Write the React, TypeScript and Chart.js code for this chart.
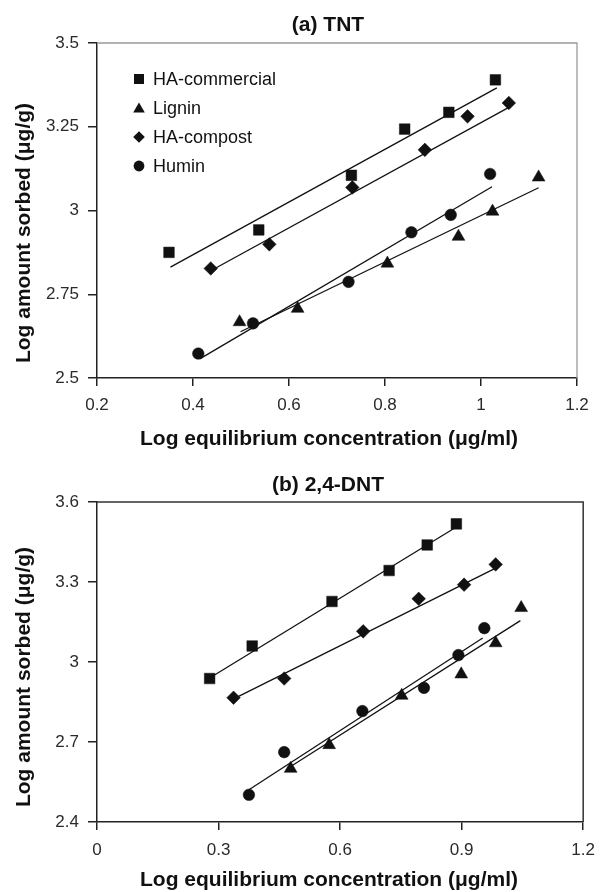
import React, { useEffect, useRef } from 'react';
import { Chart, registerables } from 'chart.js';

Chart.register(...registerables);

// ---------- shared ----------
const seriesNames = ['HA-commercial', 'Lignin', 'HA-compost', 'Humin'];
const seriesStyles = ['rect', 'triangle', 'rectRot', 'circle'];
const seriesRadii = [7.5, 7.4, 6.8, 5.8];

// ---------- (a) TNT ----------
const aTitle = '(a) TNT';
const aXTicks = [0.2, 0.4, 0.6, 0.8, 1, 1.2];
const aYTicks = [2.5, 2.75, 3, 3.25, 3.5];

const aHACommercialX = [0.35, 0.537, 0.73, 0.841, 0.933, 1.03];
const aHACommercialY = [2.875, 2.942, 3.105, 3.243, 3.293, 3.39];
const aLigninX = [0.497, 0.618, 0.805, 0.953, 1.024, 1.12];
const aLigninY = [2.667, 2.707, 2.842, 2.922, 2.997, 3.099];
const aHACompostX = [0.437, 0.559, 0.732, 0.883, 0.972, 1.058];
const aHACompostY = [2.827, 2.899, 3.069, 3.181, 3.281, 3.321];
const aHuminX = [0.411, 0.525, 0.724, 0.855, 0.937, 1.019];
const aHuminY = [2.573, 2.663, 2.787, 2.935, 2.987, 3.109];

const aFitHACommercialX = [0.353, 1.033];
const aFitHACommercialY = [2.831, 3.366];
const aFitLigninX = [0.499, 1.12];
const aFitLigninY = [2.638, 3.068];
const aFitHACompostX = [0.437, 1.058];
const aFitHACompostY = [2.82, 3.308];
const aFitHuminX = [0.415, 1.023];
const aFitHuminY = [2.558, 3.071];

// ---------- (b) 2,4-DNT ----------
const bTitle = '(b) 2,4-DNT';
const bXTicks = [0, 0.3, 0.6, 0.9, 1.2];
const bYTicks = [2.4, 2.7, 3, 3.3, 3.6];

const bHACommercialX = [0.278, 0.383, 0.58, 0.721, 0.815, 0.887];
const bHACommercialY = [2.938, 3.06, 3.227, 3.343, 3.439, 3.518];
const bLigninX = [0.478, 0.573, 0.752, 0.899, 0.984, 1.047];
const bLigninY = [2.6, 2.689, 2.874, 2.954, 3.071, 3.203];
const bHACompostX = [0.337, 0.462, 0.657, 0.794, 0.906, 0.984];
const bHACompostY = [2.866, 2.938, 3.115, 3.237, 3.29, 3.366];
const bHuminX = [0.375, 0.462, 0.655, 0.807, 0.892, 0.956];
const bHuminY = [2.502, 2.662, 2.816, 2.903, 3.026, 3.127];

const bFitHACommercialX = [0.278, 0.887];
const bFitHACommercialY = [2.94, 3.506];
const bFitLigninX = [0.478, 1.045];
const bFitLigninY = [2.608, 3.155];
const bFitHACompostX = [0.331, 0.984];
const bFitHACompostY = [2.857, 3.352];
const bFitHuminX = [0.375, 0.952];
const bFitHuminY = [2.521, 3.09];

const xAxisTitle = 'Log equilibrium concentration (\u03bcg/ml)';
const yAxisTitle = 'Log amount sorbed (\u03bcg/g)';

const FONT = '"Liberation Sans", Arial, Helvetica, sans-serif';
const INK = '#111';

const zip = (xs: number[], ys: number[]) => xs.map((x, i) => ({ x, y: ys[i] }));

function drawMarker(ctx: CanvasRenderingContext2D, style: string, x: number, y: number, s: number) {
  ctx.beginPath();
  if (style === 'rect') {
    ctx.rect(x - s / 2, y - s / 2, s, s);
  } else if (style === 'triangle') {
    const h = s * 0.9;
    ctx.moveTo(x, y - h / 2 - 1);
    ctx.lineTo(x + s / 2 + 0.8, y + h / 2);
    ctx.lineTo(x - s / 2 - 0.8, y + h / 2);
    ctx.closePath();
  } else if (style === 'rectRot') {
    const r = s / 2 + 0.8;
    ctx.moveTo(x, y - r);
    ctx.lineTo(x + r, y);
    ctx.lineTo(x, y + r);
    ctx.lineTo(x - r, y);
    ctx.closePath();
  } else {
    ctx.arc(x, y, s / 2 + 0.4, 0, Math.PI * 2);
  }
  ctx.fill();
}

const figPlugin = {
  id: 'figText',
  afterDraw(chart: any, _args: any, opts: any) {
    const ctx: CanvasRenderingContext2D = chart.ctx;
    const a = chart.chartArea;
    ctx.save();
    // frame (top + right)
    ctx.strokeStyle = opts.frameColor;
    ctx.lineWidth = opts.frameWidth;
    ctx.beginPath();
    ctx.moveTo(a.left, a.top);
    ctx.lineTo(a.right, a.top);
    ctx.lineTo(a.right, a.bottom);
    ctx.stroke();

    ctx.fillStyle = INK;
    ctx.font = `bold 21px ${FONT}`;
    ctx.textAlign = 'center';
    ctx.textBaseline = 'middle';
    ctx.fillText(opts.title, opts.titleX, opts.titleY);
    ctx.fillText(opts.xTitle, opts.xTitleX, opts.xTitleY);
    ctx.save();
    ctx.translate(opts.yTitleX, opts.yTitleY);
    ctx.rotate(-Math.PI / 2);
    ctx.textBaseline = 'alphabetic';
    ctx.fillText(opts.yTitle, 0, 0);
    ctx.restore();

    if (opts.legend) {
      const lg = opts.legend;
      ctx.font = `18px ${FONT}`;
      ctx.textAlign = 'left';
      ctx.textBaseline = 'middle';
      const ds = chart.data.datasets.filter((d: any) => d.label);
      ds.forEach((d: any, i: number) => {
        const y = lg.y + i * lg.step;
        drawMarker(ctx, d.pointStyle, lg.x, y, 10);
        ctx.fillText(d.label, lg.textX, y + 1);
      });
    }
    ctx.restore();
  },
};

function buildConfig(p: any) {
  const pointSets = p.points.map((pts: any, i: number) => ({
    label: seriesNames[i],
    data: pts,
    pointStyle: seriesStyles[i],
    pointRadius: seriesRadii[i],
    pointBackgroundColor: INK,
    pointBorderColor: INK,
    pointBorderWidth: 0.5,
    showLine: false,
    order: 0,
  }));
  const lineSets = p.fits.map((pts: any) => ({
    label: '',
    data: pts,
    showLine: true,
    borderColor: INK,
    borderWidth: 1.3,
    pointRadius: 0,
    fill: false,
    order: 1,
  }));
  const tickFont = { family: FONT, size: 17 };
  return {
    type: 'scatter',
    data: { datasets: [...pointSets, ...lineSets] },
    plugins: [figPlugin],
    options: {
      animation: false,
      responsive: false,
      events: [],
      layout: { padding: { top: p.padTop, right: p.padRight, left: 0, bottom: 0 } },
      plugins: {
        legend: { display: false },
        tooltip: { enabled: false },
        title: { display: false },
        figText: p.text,
      },
      scales: {
        x: {
          type: 'linear',
          min: p.xTicks[0],
          max: p.xTicks[p.xTicks.length - 1],
          afterBuildTicks: (s: any) => {
            s.ticks = p.xTicks.map((v: number) => ({ value: v }));
          },
          afterFit: (s: any) => {
            s.height = p.xAxisHeight;
          },
          ticks: {
            font: tickFont,
            color: '#2a2a2a',
            padding: p.xTickPad,
            autoSkip: false,
            maxRotation: 0,
            callback: (v: number) => String(v),
          },
          grid: { drawOnChartArea: false, drawTicks: true, tickLength: 8, color: '#222', lineWidth: 1.5 },
          border: { color: '#222', width: 1.5 },
        },
        y: {
          type: 'linear',
          min: p.yTicks[0],
          max: p.yTicks[p.yTicks.length - 1],
          afterBuildTicks: (s: any) => {
            s.ticks = p.yTicks.map((v: number) => ({ value: v }));
          },
          afterFit: (s: any) => {
            s.width = 97;
          },
          ticks: {
            font: tickFont,
            color: '#2a2a2a',
            padding: 9,
            autoSkip: false,
            callback: (v: number) => String(v),
          },
          grid: { drawOnChartArea: false, drawTicks: true, tickLength: 9, color: '#222', lineWidth: 1.5 },
          border: { color: '#222', width: 1.5 },
        },
      },
    },
  };
}

const TOP_H = 462;
const BOT_H = 892 - TOP_H;

const panelA = {
  height: TOP_H,
  points: [
    zip(aHACommercialX, aHACommercialY),
    zip(aLigninX, aLigninY),
    zip(aHACompostX, aHACompostY),
    zip(aHuminX, aHuminY),
  ],
  fits: [
    zip(aFitHACommercialX, aFitHACommercialY),
    zip(aFitLigninX, aFitLigninY),
    zip(aFitHACompostX, aFitHACompostY),
    zip(aFitHuminX, aFitHuminY),
  ],
  xTicks: aXTicks,
  yTicks: aYTicks,
  padTop: 43,
  padRight: 28,
  xAxisHeight: TOP_H - 378,
  xTickPad: 9,
  text: {
    title: aTitle,
    titleX: 328,
    titleY: 25,
    xTitle: xAxisTitle,
    xTitleX: 329,
    xTitleY: 439,
    yTitle: yAxisTitle,
    yTitleX: 30,
    yTitleY: 233,
    frameColor: '#9a9a9a',
    frameWidth: 1.3,
    legend: { x: 139, textX: 153, y: 79, step: 29 },
  },
};

const panelB = {
  height: BOT_H,
  points: [
    zip(bHACommercialX, bHACommercialY),
    zip(bLigninX, bLigninY),
    zip(bHACompostX, bHACompostY),
    zip(bHuminX, bHuminY),
  ],
  fits: [
    zip(bFitHACommercialX, bFitHACommercialY),
    zip(bFitLigninX, bFitLigninY),
    zip(bFitHACompostX, bFitHACompostY),
    zip(bFitHuminX, bFitHuminY),
  ],
  xTicks: bXTicks,
  yTicks: bYTicks,
  padTop: 502 - TOP_H,
  padRight: 14,
  xAxisHeight: 892 - 822,
  xTickPad: 10,
  text: {
    title: bTitle,
    titleX: 328,
    titleY: 485 - TOP_H,
    xTitle: xAxisTitle,
    xTitleX: 329,
    xTitleY: 880 - TOP_H,
    yTitle: yAxisTitle,
    yTitleX: 30,
    yTitleY: 677 - TOP_H,
    frameColor: '#333',
    frameWidth: 1.5,
    legend: null,
  },
};

function Panel({ cfg, top }: { cfg: any; top: number }) {
  const ref = useRef<HTMLCanvasElement | null>(null);
  useEffect(() => {
    if (!ref.current) return;
    const chart = new Chart(ref.current, buildConfig(cfg) as any);
    return () => chart.destroy();
  }, [cfg]);
  return (
    <canvas
      ref={ref}
      width={605}
      height={cfg.height}
      style={{ position: 'absolute', left: 0, top, width: 605, height: cfg.height, display: 'block' }}
    />
  );
}

export default function App() {
  return (
    <div style={{ position: 'absolute', left: 0, top: 0, width: 605, height: 892, background: '#fff' }}>
      <Panel cfg={panelA} top={0} />
      <Panel cfg={panelB} top={TOP_H} />
    </div>
  );
}
